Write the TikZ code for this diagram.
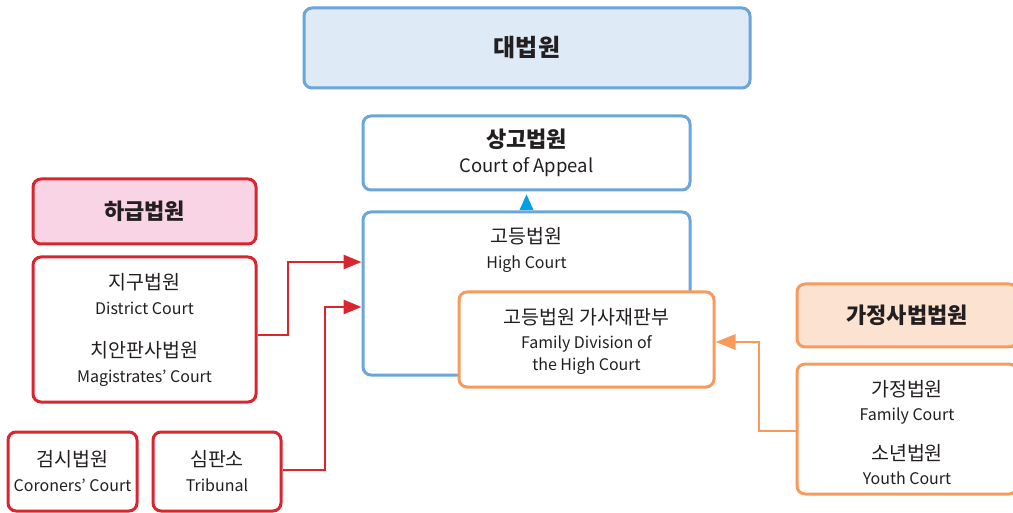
\documentclass[tikz,border=0pt]{standalone}
\usepackage{fontspec}
\setmainfont{Noto Sans CJK KR}
\usetikzlibrary{arrows.meta,calc}
\definecolor{bblue}{HTML}{6AA6DB}
\definecolor{bfill}{HTML}{DEEAF6}
\definecolor{rred}{HTML}{D9262E}
\definecolor{pfill}{HTML}{F9D4E4}
\definecolor{oorange}{HTML}{F79A5B}
\definecolor{ofill}{HTML}{FCE3D1}
\definecolor{tcol}{HTML}{231F20}
\definecolor{tipc}{HTML}{00A0E4}
\newcommand{\kr}{\fontsize{19.5}{25}\selectfont}
\tikzset{
  box/.style={draw, rounded corners=8pt, line width=3pt, fill=white, inner sep=0pt, align=center, text=tcol},
  bluebox/.style={box, draw=bblue},
  redbox/.style={box, draw=rred},
  orangebox/.style={box, draw=oorange},
  reg/.style={font=\fontsize{16}{25}\selectfont, text=tcol, align=center},
  head/.style={font=\fontsize{22}{25}\selectfont\bfseries},
  redarrow/.style={draw=rred, line width=2.8pt, -{Triangle[length=18pt,width=14pt]}},
  orangearrow/.style={draw=oorange, line width=2.8pt, -{Triangle[length=20pt,width=15pt]}},
}
\begin{document}
\begin{tikzpicture}[x=1pt,y=-1pt]
\useasboundingbox (0,0) rectangle (1013,513);
% boxes
\node[bluebox, fill=bfill, minimum width=446pt, minimum height=80pt, font=\fontsize{24}{25}\selectfont\bfseries] (sup) at (527,48) {대법원};
\node[bluebox, minimum width=327pt, minimum height=74pt, reg] (appeal) at (526.5,153) {{\fontsize{22}{25}\selectfont\bfseries 상고법원}\\{\fontsize{18.5}{25}\selectfont Court of Appeal}};
\node[bluebox, minimum width=327pt, minimum height=163pt] (high) at (526.5,293.5) {};
\node[reg] (hightext) at (526.5,249.5) {{\kr 고등법원}\\High Court};
\node[orangebox, minimum width=255pt, minimum height=95pt] (famdiv) at (586.5,339.5) {};
\node[reg, font=\fontsize{16}{22}\selectfont] (famdivtext) at (586.5,341) {{\kr 고등법원 가사재판부}\\[2pt]Family Division of\\the High Court};
\node[redbox, fill=pfill, minimum width=223pt, minimum height=65pt, head] (lower) at (144.5,211.5) {하급법원};
\node[redbox, minimum width=223pt, minimum height=145pt, reg] (district) at (144.5,329.5) {{\kr 지구법원}\\District Court\\[18pt]{\kr 치안판사법원}\\Magistrates’ Court};
\node[redbox, minimum width=129pt, minimum height=79pt, reg] (coroner) at (72.5,471.5) {{\kr 검시법원}\\Coroners’ Court};
\node[redbox, minimum width=128pt, minimum height=79pt, reg] (tribunal) at (217,471.5) {{\kr 심판소}\\Tribunal};
\node[orangebox, fill=ofill, minimum width=220pt, minimum height=63pt, head] (famhead) at (907,315.5) {가정사법법원};
\node[orangebox, minimum width=220pt, minimum height=130pt] (family) at (907,429) {};
\node[reg, font=\fontsize{16}{24}\selectfont] (familytext) at (907,432.5) {{\kr 가정법원}\\Family Court\\[16pt]{\kr 소년법원}\\Youth Court};
% connectors
\draw[redarrow] (district.east |- 0,335) -- (288,335) -- (288,262) -- (high.west |- 0,262);
\draw[redarrow] (tribunal.east |- 0,470) -- (325,470) -- (325,307) -- (high.west |- 0,307);
\draw[orangearrow] (family.west |- 0,431) -- (759,431) -- (759,342) -- (famdiv.east |- 0,342);
\fill[tipc] ($(high.north)+(-7,-0.5)$) -- ($(high.north)+(0,-16)$) -- ($(high.north)+(7,-0.5)$) -- cycle;
\end{tikzpicture}
\end{document}
